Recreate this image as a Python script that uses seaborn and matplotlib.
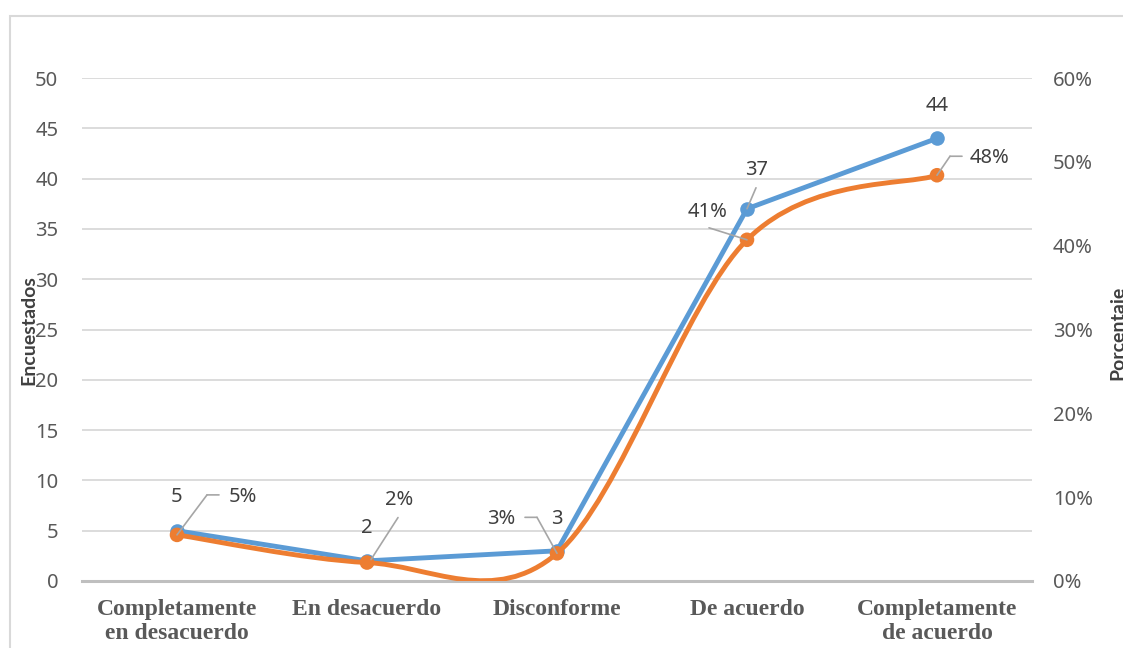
import pandas as pd
import seaborn as sns
import matplotlib.pyplot as plt
from matplotlib.path import Path
from matplotlib.patches import PathPatch, Rectangle
from matplotlib.transforms import offset_copy
from matplotlib.ticker import PercentFormatter

# === datos ===
categorias = ["Completamente\nen desacuerdo", "En desacuerdo", "Disconforme",
              "De acuerdo", "Completamente\nde acuerdo"]
encuestados = [5, 2, 3, 37, 44]
porcentaje = [5.5, 2.2, 3.3, 40.7, 48.4]
etiquetas_pct = ["5%", "2%", "3%", "41%", "48%"]

# posicion de las etiquetas (desplazamiento en pixeles) y lineas guia
OFF_ENC = [(0, 34), (0, 33), (0, 32), (10, 39), (0, 32)]
GUIA_ENC = [None, None, None, [(0, 0), (9, 21)], None]
OFF_PCT = [(66, 38), (32, 63), (-56, 34), (-39, 28), (52, 17)]
GUIA_PCT = [[(0, 0), (30, 40), (42, 40)],
            [(4, 3), (31, 45)],
            [(0, 0), (-20, 36), (-32, 36)],
            [(0, 0), (-38, 12)],
            [(0, 0), (13, 19), (25, 19)]]

AZUL = "#5b9bd5"
NARANJA = "#ed7d31"
GRIS_TXT = "#595959"
GRIS_GUIA = "#a6a6a6"

sns.set_theme(style="white")
plt.rcParams['font.family'] = ['Noto Sans', 'DejaVu Sans']

df = pd.DataFrame({"pos": range(len(categorias)),
                   "encuestados": encuestados,
                   "porcentaje": porcentaje})

W, H = 1123, 648
fig = plt.figure(figsize=(W / 100, H / 100), dpi=100)
ax = fig.add_axes([82 / W, 67 / H, 950 / W, 503 / H])
ax2 = ax.twinx()


def curva_suave(xs, ys):
    # curva bezier tipo "linea suavizada" de Excel
    verts = [(xs[0], ys[0])]
    codes = [Path.MOVETO]
    n = len(xs)
    for i in range(n - 1):
        i0 = max(i - 1, 0)
        i3 = min(i + 2, n - 1)
        c1 = (xs[i] + (xs[i + 1] - xs[i0]) / 6, ys[i] + (ys[i + 1] - ys[i0]) / 6)
        c2 = (xs[i + 1] - (xs[i3] - xs[i]) / 6, ys[i + 1] - (ys[i3] - ys[i]) / 6)
        verts += [c1, c2, (xs[i + 1], ys[i + 1])]
        codes += [Path.CURVE4] * 3
    return Path(verts, codes)


def guia(eje, x, y, puntos):
    for (x0, y0), (x1, y1) in zip(puntos[:-1], puntos[1:]):
        eje.annotate("", xy=(x, y), xycoords=offset_copy(eje.transData, x=x1, y=y1, units='dots'),
                     xytext=(x, y), textcoords=offset_copy(eje.transData, x=x0, y=y0, units='dots'),
                     arrowprops=dict(arrowstyle='-', color=GRIS_GUIA, lw=1.2,
                                     shrinkA=0, shrinkB=0))


# serie de encuestados (eje izquierdo)
sns.lineplot(data=df, x="pos", y="encuestados", ax=ax, color=AZUL, lw=3.5,
             marker='o', markersize=10.5, markeredgewidth=0)

# serie de porcentaje (eje derecho, linea suavizada)
ax2.add_patch(PathPatch(curva_suave(list(df["pos"]), porcentaje), facecolor='none',
                        edgecolor=NARANJA, lw=3.5, capstyle='round', zorder=2))
sns.scatterplot(data=df, x="pos", y="porcentaje", ax=ax2, color=NARANJA, s=110,
                edgecolor='none', zorder=3)

# etiquetas de datos
for i, v in enumerate(encuestados):
    if GUIA_ENC[i]:
        guia(ax, i, v, GUIA_ENC[i])
    ax.annotate(str(v), xy=(i, v), xytext=OFF_ENC[i], textcoords='offset pixels',
                ha='center', va='center', fontsize=14.5, color="#404040")
for i, v in enumerate(porcentaje):
    guia(ax2, i, v, GUIA_PCT[i])
    ax2.annotate(etiquetas_pct[i], xy=(i, v), xytext=OFF_PCT[i], textcoords='offset pixels',
                 ha='center', va='center', fontsize=14.5, color="#404040")

# ejes
ax.set_xlim(-0.5, 4.5)
ax.set_ylim(0, 50)
ax.set_yticks(range(0, 51, 5))
ax2.set_ylim(0, 60)
ax2.set_yticks(range(0, 61, 10))
ax2.yaxis.set_major_formatter(PercentFormatter(decimals=0))
ax.set_xticks(range(len(categorias)))
ax.set_xticklabels(categorias, fontfamily='Liberation Serif', fontweight='bold',
                   fontsize=17, color=GRIS_TXT, linespacing=1.2)

ax.grid(axis='y', color='#d9d9d9', lw=1.3)
ax.set_axisbelow(True)
for s in ["top", "left", "right"]:
    ax.spines[s].set_visible(False)
for s in ax2.spines.values():
    s.set_visible(False)
ax.spines["bottom"].set_color('#bfbfbf')
ax.spines["bottom"].set_linewidth(2.2)

ax.tick_params(axis='y', length=0, pad=17, labelsize=14.5, labelcolor=GRIS_TXT)
ax.tick_params(axis='x', length=0, pad=13)
ax2.tick_params(axis='y', length=0, pad=15, labelsize=14.5, labelcolor=GRIS_TXT)
ax.set_xlabel("")
ax.set_ylabel("")
ax2.set_xlabel("")
ax2.set_ylabel("")

fig.text(29 / W, 1 - 330 / H, "Encuestados", rotation=90, ha='center', va='center',
         fontsize=14, fontweight='bold', color="#404040", family=['Lato', 'DejaVu Sans'])
fig.text(1118 / W, 1 - 333 / H, "Porcentaje", rotation=90, ha='center', va='center',
         fontsize=14, fontweight='bold', color="#404040", family=['Lato', 'DejaVu Sans'])

# marco del grafico
fig.add_artist(Rectangle((10 / W, -0.1), 1.2, 1.1 - 16 / H, transform=fig.transFigure,
                         fill=False, edgecolor='#d9d9d9', lw=1.5))

fig.savefig("out.png", dpi=100)
